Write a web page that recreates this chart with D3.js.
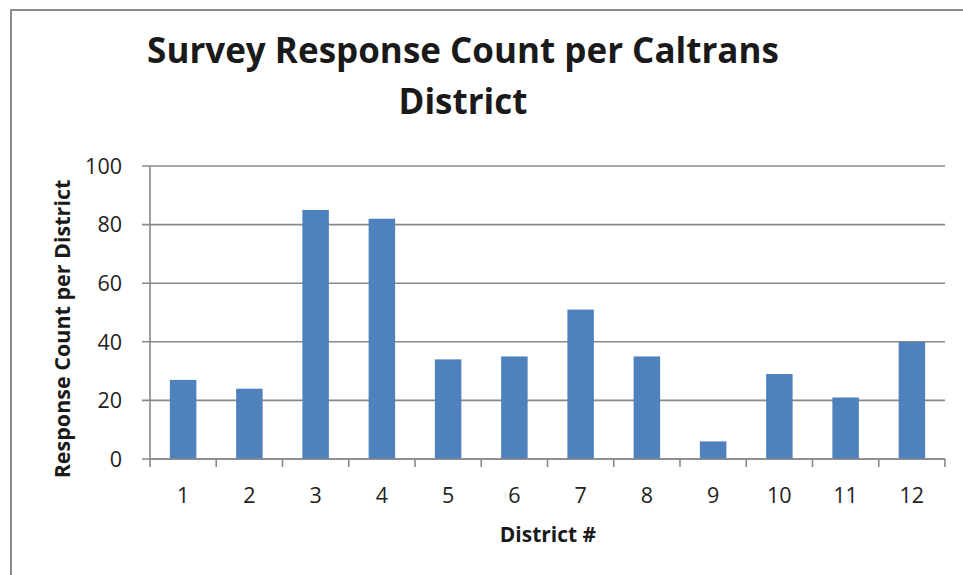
<!DOCTYPE html>
<html>
<head>
<meta charset="utf-8">
<script src="https://cdn.jsdelivr.net/npm/d3@7"></script>
<style>
  body { margin: 0; background: #fff; }
  svg { display: block; font-family: "Open Sans", sans-serif; }
</style>
</head>
<body>
<svg id="chart" width="963" height="575"></svg>
<script>
// chart data
const districts = ["1", "2", "3", "4", "5", "6", "7", "8", "9", "10", "11", "12"];
const responses = [27, 24, 85, 82, 34, 35, 51, 35, 6, 29, 21, 40];
const yTicks = [0, 20, 40, 60, 80, 100];

const svg = d3.select("#chart");

const margin = { top: 166, right: 18, bottom: 116, left: 150 };
const width = 963 - margin.left - margin.right;
const height = 575 - margin.top - margin.bottom;

// outer frame (only left/top visible in the crop)
svg.append("rect")
  .attr("x", 11).attr("y", 10)
  .attr("width", 980).attr("height", 600)
  .attr("fill", "none")
  .attr("stroke", "#8a8a8a")
  .attr("stroke-width", 2);

const x = d3.scaleBand().domain(districts).range([0, width]).paddingInner(0.6).paddingOuter(0.3);
const xb = d3.scaleBand().domain(districts).range([0, width]);
const y = d3.scaleLinear().domain([0, 100]).range([height, 0]);

const g = svg.append("g").attr("transform", `translate(${margin.left},${margin.top})`);

// gridlines
g.selectAll(".grid")
  .data(yTicks)
  .enter()
  .append("line")
  .attr("x1", -8).attr("x2", width)
  .attr("y1", d => y(d)).attr("y2", d => y(d))
  .attr("stroke", "#888")
  .attr("stroke-width", 1.6);

// y tick labels
g.selectAll(".ylab")
  .data(yTicks)
  .enter()
  .append("text")
  .attr("x", -28)
  .attr("y", d => y(d))
  .attr("dy", "0.36em")
  .attr("text-anchor", "end")
  .attr("font-size", 21.5)
  .attr("fill", "#222")
  .text(d => d);

// bars
g.selectAll(".bar")
  .data(responses)
  .enter()
  .append("rect")
  .attr("x", (d, i) => x(districts[i]))
  .attr("y", d => y(d))
  .attr("width", x.bandwidth())
  .attr("height", d => height - y(d))
  .attr("fill", "#4f81bd");

// y axis line
g.append("line")
  .attr("x1", 0).attr("x2", 0)
  .attr("y1", 0).attr("y2", height)
  .attr("stroke", "#888").attr("stroke-width", 1.6);

// x axis line + ticks at category boundaries
g.append("line")
  .attr("x1", 0).attr("x2", width)
  .attr("y1", height).attr("y2", height)
  .attr("stroke", "#888").attr("stroke-width", 1.6);

const bounds = districts.map(d => xb(d)).concat([width]);
g.selectAll(".xtick")
  .data(bounds)
  .enter()
  .append("line")
  .attr("x1", d => d).attr("x2", d => d)
  .attr("y1", height).attr("y2", height + 8)
  .attr("stroke", "#888").attr("stroke-width", 1.6);

g.selectAll(".xlab")
  .data(districts)
  .enter()
  .append("text")
  .attr("x", d => xb(d) + xb.bandwidth() / 2)
  .attr("y", height + 44)
  .attr("text-anchor", "middle")
  .attr("font-size", 21.5)
  .attr("fill", "#222")
  .text(d => d);

// titles
svg.append("text")
  .attr("x", 463).attr("y", 63)
  .attr("text-anchor", "middle")
  .attr("font-size", 35)
  .attr("font-weight", "bold")
  .attr("fill", "#1a1a1a")
  .text("Survey Response Count per Caltrans");

svg.append("text")
  .attr("x", 463).attr("y", 114)
  .attr("text-anchor", "middle")
  .attr("font-size", 35)
  .attr("font-weight", "bold")
  .attr("fill", "#1a1a1a")
  .text("District");

svg.append("text")
  .attr("x", 548).attr("y", 542)
  .attr("text-anchor", "middle")
  .attr("font-size", 21)
  .attr("font-weight", "bold")
  .attr("fill", "#1a1a1a")
  .text("District #");

svg.append("text")
  .attr("transform", "translate(70,329) rotate(-90)")
  .attr("text-anchor", "middle")
  .attr("font-size", 21.5)
  .attr("font-weight", "bold")
  .attr("fill", "#1a1a1a")
  .text("Response Count per District");
</script>
</body>
</html>
